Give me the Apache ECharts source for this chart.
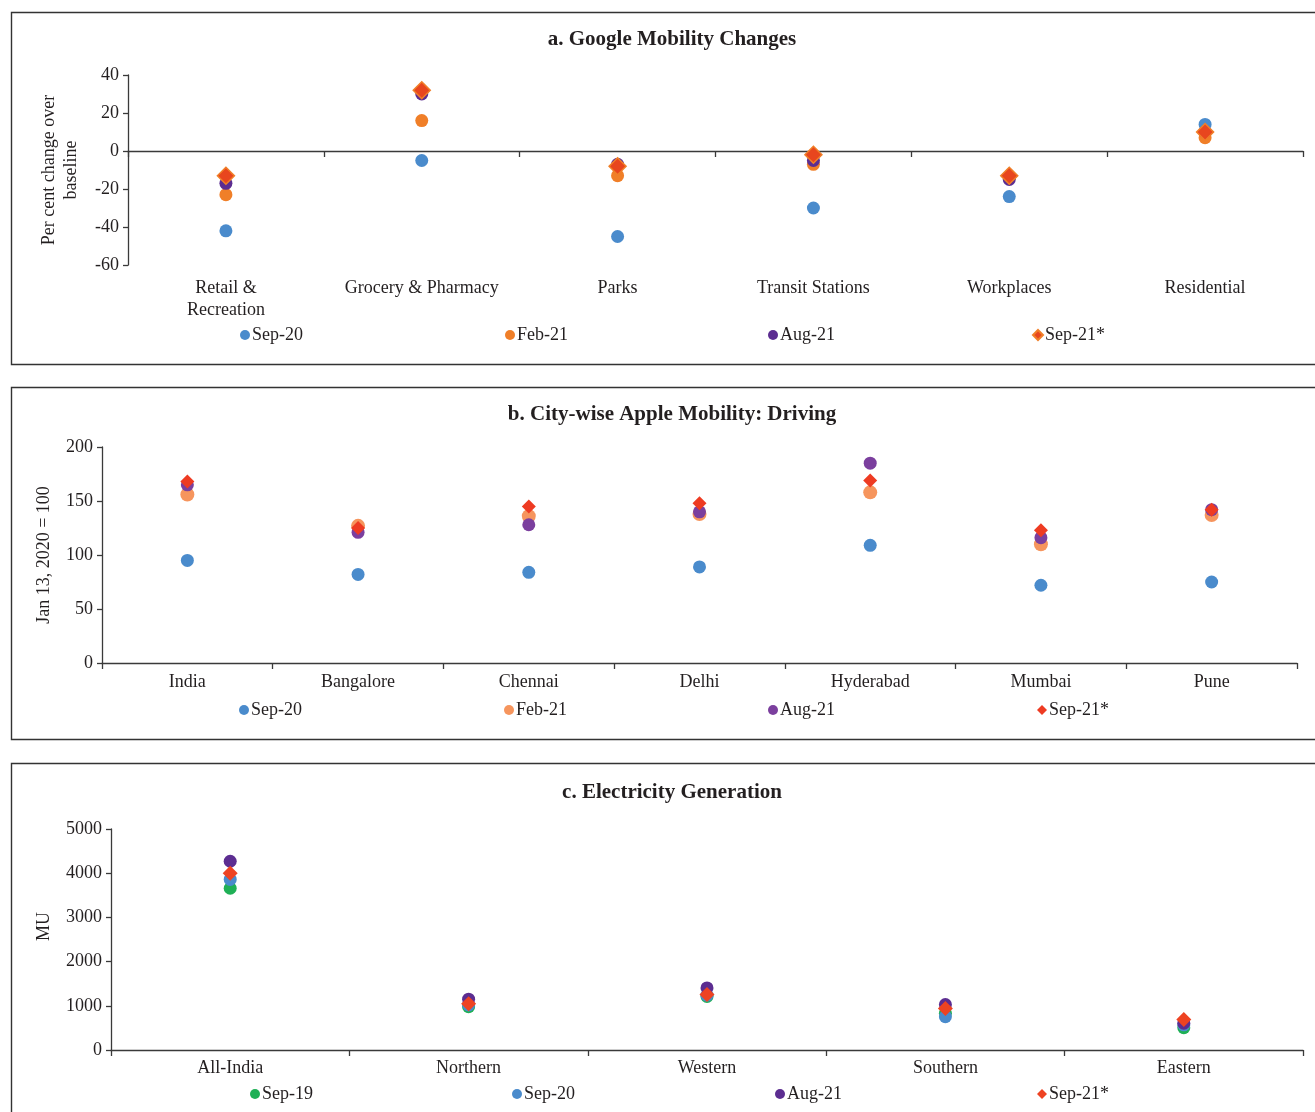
<!DOCTYPE html>
<html>
<head>
<meta charset="utf-8">
<script src="https://cdn.jsdelivr.net/npm/echarts@6/dist/echarts.min.js"></script>
<style>
  html, body { margin: 0; padding: 0; background: #ffffff; }
  #chart { width: 1315px; height: 1112px; }
</style>
</head>
<body>
<div id="chart"></div>
<script>
// a. Google mobility: per cent change over baseline
const googleCategories = ['Retail &\nRecreation', 'Grocery & Pharmacy', 'Parks', 'Transit Stations', 'Workplaces', 'Residential'];
const googleSep20 = [-42, -5, -45, -30, -24, 14];
const googleFeb21 = [-23, 16, -13, -7, -14, 7];
const googleAug21 = [-17, 30, -7, -5, -15, 10];
const googleSep21 = [-13, 32, -8, -2, -13, 10];

// b. Apple mobility (driving), Jan 13, 2020 = 100
const appleCities = ['India', 'Bangalore', 'Chennai', 'Delhi', 'Hyderabad', 'Mumbai', 'Pune'];
const appleSep20 = [95, 82, 84, 89, 109, 72, 75];
const appleFeb21 = [156, 127, 136, 138, 158, 110, 137];
const appleAug21 = [165, 121, 128, 140, 185, 116, 142];
const appleSep21 = [168, 125, 145, 148, 169, 123, 142];

// c. Electricity generation (MU)
const powerRegions = ['All-India', 'Northern', 'Western', 'Southern', 'Eastern'];
const powerSep19 = [3660, 980, 1210, 830, 505];
const powerSep20 = [3860, 1020, 1240, 755, 570];
const powerAug21 = [4270, 1150, 1405, 1030, 605];
const powerSep21 = [4000, 1045, 1255, 940, 690];

// tick settings for each value axis
const googleTicks = { min: -60, max: 40, interval: 20 };
const appleTicks = { min: 0, max: 200, interval: 50 };
const powerTicks = { min: 0, max: 5000, interval: 1000 };

const FONT = '"Liberation Serif", "DejaVu Serif", serif';
const TEXT = '#231f20';
const AXIS = '#3a3a3a';
const FS = 18;

const chart = echarts.init(document.getElementById('chart'), null, { renderer: 'canvas' });

// series names carry a panel prefix so each legend picks up its own colour
const label = n => n.split('|')[1];

function scatter(name, data, grid, color, opts) {
  opts = opts || {};
  return {
    name: name,
    type: 'scatter',
    xAxisIndex: grid.x,
    yAxisIndex: grid.y,
    data: data,
    symbol: opts.symbol || 'circle',
    symbolSize: opts.size || 13,
    itemStyle: Object.assign({ color: color, opacity: 1 }, opts.border ? { borderColor: opts.border, borderWidth: 1.5 } : {}),
    emphasis: { disabled: true },
    z: opts.z || 2
  };
}

function legendItem(name, centerX, centerY, icon) {
  return {
    data: [{ name: name, icon: icon }],
    left: centerX - 5,
    top: centerY - 9,
    itemWidth: 10,
    itemHeight: 10,
    itemGap: 0,
    padding: 0,
    selectedMode: false,
    formatter: label,
    textStyle: { fontFamily: FONT, fontSize: FS, color: TEXT, padding: [0, 0, 0, -3] }
  };
}

function valueAxis(gridIndex, ticks, name, nameGap, namePadding) {
  return {
    type: 'value',
    gridIndex: gridIndex,
    min: ticks.min,
    max: ticks.max,
    interval: ticks.interval,
    name: name,
    nameLocation: 'middle',
    nameGap: nameGap,
    nameTextStyle: { fontFamily: FONT, fontSize: FS, color: TEXT, lineHeight: 22, padding: namePadding || 0 },
    axisLine: { show: true, lineStyle: { color: AXIS, width: 1.3 } },
    axisTick: { show: true, length: 5, lineStyle: { color: AXIS, width: 1.3 } },
    axisLabel: { fontFamily: FONT, fontSize: FS, color: TEXT, margin: 9, formatter: v => String(v) },
    splitLine: { show: false }
  };
}

const blue = '#4a8bcc';
const titleStyle = { fontFamily: FONT, fontSize: 21, fontWeight: 'bold', color: TEXT };

const option = {
  backgroundColor: '#ffffff',
  animation: false,
  title: [
    { text: 'a. Google Mobility Changes', left: 667, top: 24, textAlign: 'center', textStyle: titleStyle },
    { text: 'b. City-wise Apple Mobility: Driving', left: 667, top: 399, textAlign: 'center', textStyle: titleStyle },
    { text: 'c. Electricity Generation', left: 667, top: 777, textAlign: 'center', textStyle: titleStyle }
  ],
  graphic: [
    { type: 'rect', shape: { x: 11.5, y: 12.5, width: 1330, height: 352 }, style: { fill: 'none', stroke: '#333', lineWidth: 1.4 }, silent: true },
    { type: 'rect', shape: { x: 11.5, y: 387.5, width: 1330, height: 352 }, style: { fill: 'none', stroke: '#333', lineWidth: 1.4 }, silent: true },
    { type: 'rect', shape: { x: 11.5, y: 763.5, width: 1330, height: 400 }, style: { fill: 'none', stroke: '#333', lineWidth: 1.4 }, silent: true }
  ],
  grid: [
    { left: 128, top: 75, width: 1175, height: 190, containLabel: false },
    { left: 102, top: 447, width: 1195, height: 216, containLabel: false },
    { left: 111, top: 829, width: 1192, height: 221, containLabel: false }
  ],
  xAxis: [
    // panel a: category labels below the plot
    { type: 'category', gridIndex: 0, data: googleCategories, position: 'bottom', boundaryGap: true,
      axisLine: { show: false, onZero: false }, axisTick: { show: false },
      axisLabel: { interval: 0, fontFamily: FONT, fontSize: FS, color: TEXT, margin: 12, lineHeight: 22 } },
    // panel a: the zero line with its category ticks
    { type: 'category', gridIndex: 0, data: googleCategories, position: 'top', boundaryGap: true,
      axisLine: { show: true, onZero: true, lineStyle: { color: AXIS, width: 1.3 } },
      axisTick: { show: true, inside: true, length: 6, interval: 0, lineStyle: { color: AXIS, width: 1.3 } },
      axisLabel: { show: false } },
    { type: 'category', gridIndex: 1, data: appleCities, boundaryGap: true,
      axisLine: { show: true, lineStyle: { color: AXIS, width: 1.3 } },
      axisTick: { show: true, length: 6, interval: 0, lineStyle: { color: AXIS, width: 1.3 } },
      axisLabel: { interval: 0, fontFamily: FONT, fontSize: FS, color: TEXT, margin: 10 } },
    { type: 'category', gridIndex: 2, data: powerRegions, boundaryGap: true,
      axisLine: { show: true, lineStyle: { color: AXIS, width: 1.3 } },
      axisTick: { show: true, length: 6, interval: 0, lineStyle: { color: AXIS, width: 1.3 } },
      axisLabel: { interval: 0, fontFamily: FONT, fontSize: FS, color: TEXT, margin: 9 } }
  ],
  yAxis: [
    valueAxis(0, googleTicks, 'Per cent change over\nbaseline', 46),
    valueAxis(1, appleTicks, 'Jan 13, 2020 = 100', 43),
    valueAxis(2, powerTicks, 'MU', 53, [0, 0, 0, 26])
  ],
  legend: [
    legendItem('a|Sep-20', 245, 335, 'circle'),
    legendItem('a|Feb-21', 510, 335, 'circle'),
    legendItem('a|Aug-21', 773, 335, 'circle'),
    legendItem('a|Sep-21*', 1037, 335, 'diamond'),
    legendItem('b|Sep-20', 244, 710, 'circle'),
    legendItem('b|Feb-21', 509, 710, 'circle'),
    legendItem('b|Aug-21', 773, 710, 'circle'),
    legendItem('b|Sep-21*', 1042, 710, 'diamond'),
    legendItem('c|Sep-19', 255, 1094, 'circle'),
    legendItem('c|Sep-20', 517, 1094, 'circle'),
    legendItem('c|Aug-21', 780, 1094, 'circle'),
    legendItem('c|Sep-21*', 1042, 1094, 'diamond')
  ],
  series: [
    scatter('a|Sep-20', googleSep20, { x: 0, y: 0 }, blue),
    scatter('a|Feb-21', googleFeb21, { x: 0, y: 0 }, '#f07f28', { z: 3 }),
    scatter('a|Aug-21', googleAug21, { x: 0, y: 0 }, '#5c2d91', { z: 4 }),
    scatter('a|Sep-21*', googleSep21, { x: 0, y: 0 }, '#e8461e', { symbol: 'diamond', size: 17, border: '#f07f28', z: 5 }),

    scatter('b|Sep-20', appleSep20, { x: 2, y: 1 }, blue),
    scatter('b|Feb-21', appleFeb21, { x: 2, y: 1 }, '#f6955d', { size: 14, z: 3 }),
    scatter('b|Aug-21', appleAug21, { x: 2, y: 1 }, '#7b3f9e', { z: 4 }),
    scatter('b|Sep-21*', appleSep21, { x: 2, y: 1 }, '#ee3b22', { symbol: 'diamond', size: 14, z: 5 }),

    scatter('c|Sep-19', powerSep19, { x: 3, y: 2 }, '#1fb056'),
    scatter('c|Sep-20', powerSep20, { x: 3, y: 2 }, blue, { z: 3 }),
    scatter('c|Aug-21', powerAug21, { x: 3, y: 2 }, '#5c2d91', { z: 4 }),
    scatter('c|Sep-21*', powerSep21, { x: 3, y: 2 }, '#ee4322', { symbol: 'diamond', size: 15, z: 5 })
  ]
};

chart.setOption(option);
</script>
</body>
</html>
